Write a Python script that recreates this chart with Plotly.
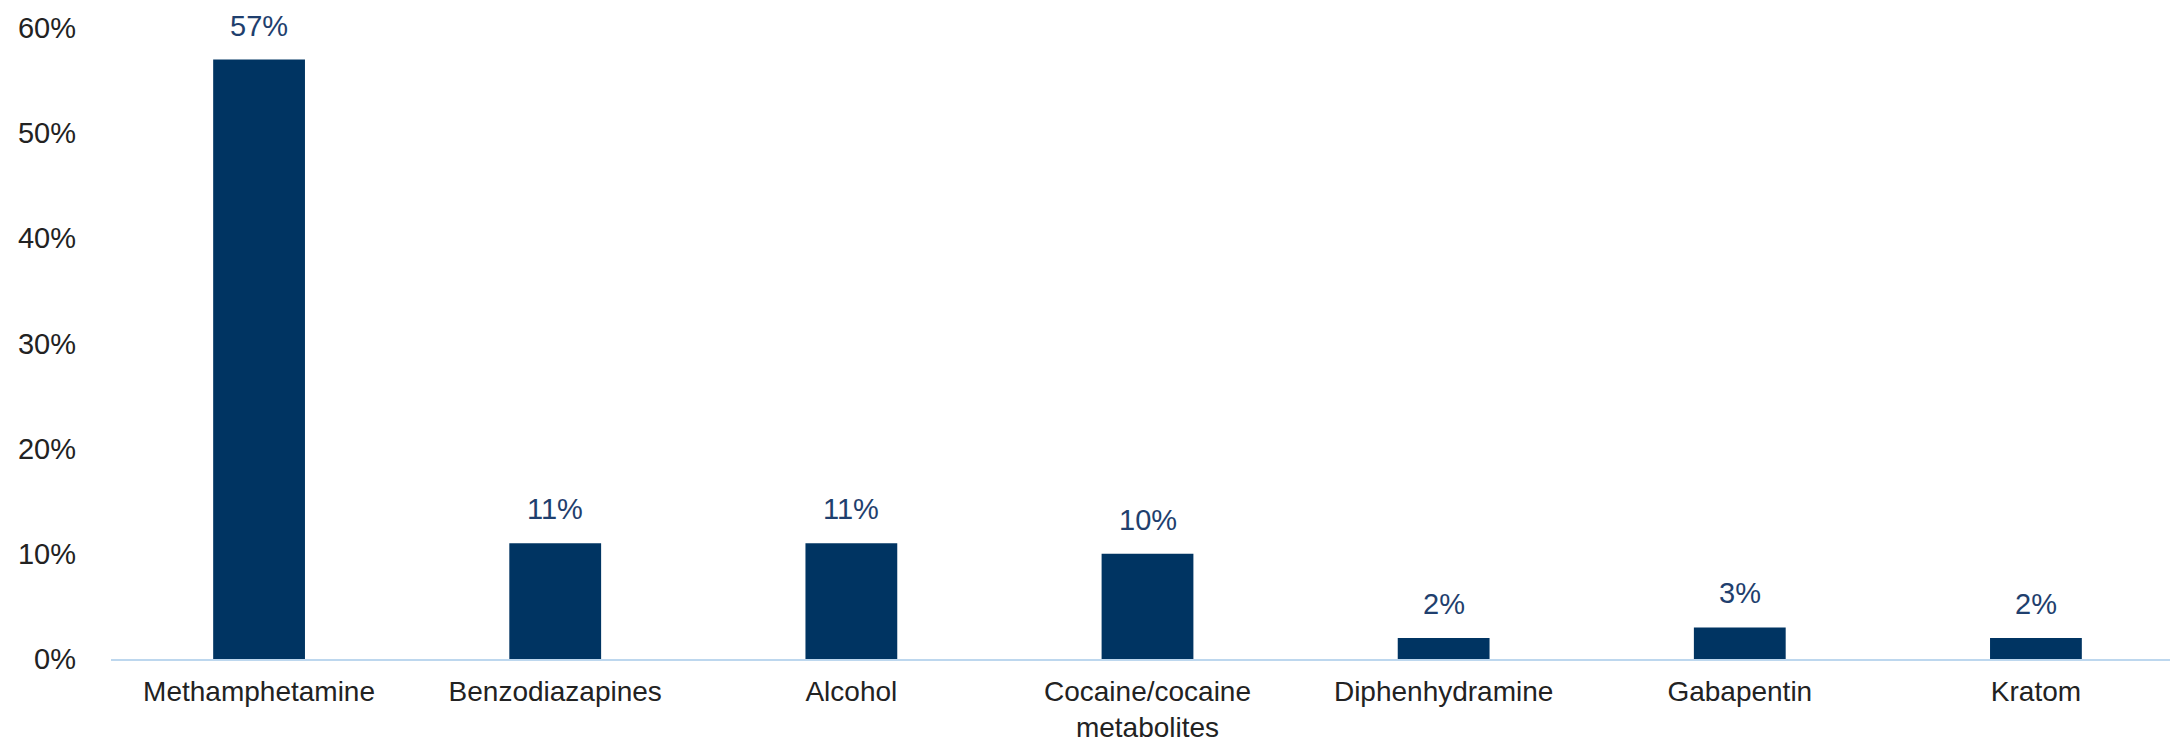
import plotly.graph_objects as go

categories = ["Methamphetamine", "Benzodiazapines", "Alcohol", "Cocaine/cocaine<br>metabolites",
              "Diphenhydramine", "Gabapentin", "Kratom"]
values = [0.57, 0.11, 0.11, 0.10, 0.02, 0.03, 0.02]
y_ticks = [0, 0.1, 0.2, 0.3, 0.4, 0.5, 0.6]
y_tick_labels = ["0%", "10%", "20%", "30%", "40%", "50%", "60%"]

BAR = "#003462"
LABEL = "#1F3F6E"
TEXT = "#222222"
FONT = "Liberation Sans"
SIZE = 29

fig = go.Figure(go.Bar(
    x=categories, y=values,
    marker=dict(color=BAR, line=dict(width=0)),
    cliponaxis=False,
))

for c, v in zip(categories, values):
    fig.add_annotation(
        x=c, y=v, text=f"{v:.0%}", showarrow=False,
        yanchor="bottom", yshift=16,
        font=dict(color=LABEL, size=SIZE, family=FONT),
    )

fig.update_layout(
    width=2178, height=741,
    margin=dict(l=103, r=2, t=20, b=90),
    paper_bgcolor="white", plot_bgcolor="white",
    bargap=0.69,
    showlegend=False,
    font=dict(family=FONT, size=SIZE, color=TEXT),
)
fig.update_xaxes(
    automargin=False,
    showline=True, linecolor="#BDD7EE", linewidth=2,
    showgrid=False, ticks="", ticklabelstandoff=6,
    tickfont=dict(size=28, color=TEXT, family=FONT),
)
fig.update_yaxes(
    automargin=False,
    range=[0, 0.6], tickvals=y_ticks, ticktext=y_tick_labels,
    showgrid=False, zeroline=False, showline=False, ticks="",
    ticklabelstandoff=34,
    tickfont=dict(size=SIZE, color=TEXT, family=FONT),
)

fig.write_html("out.html")
